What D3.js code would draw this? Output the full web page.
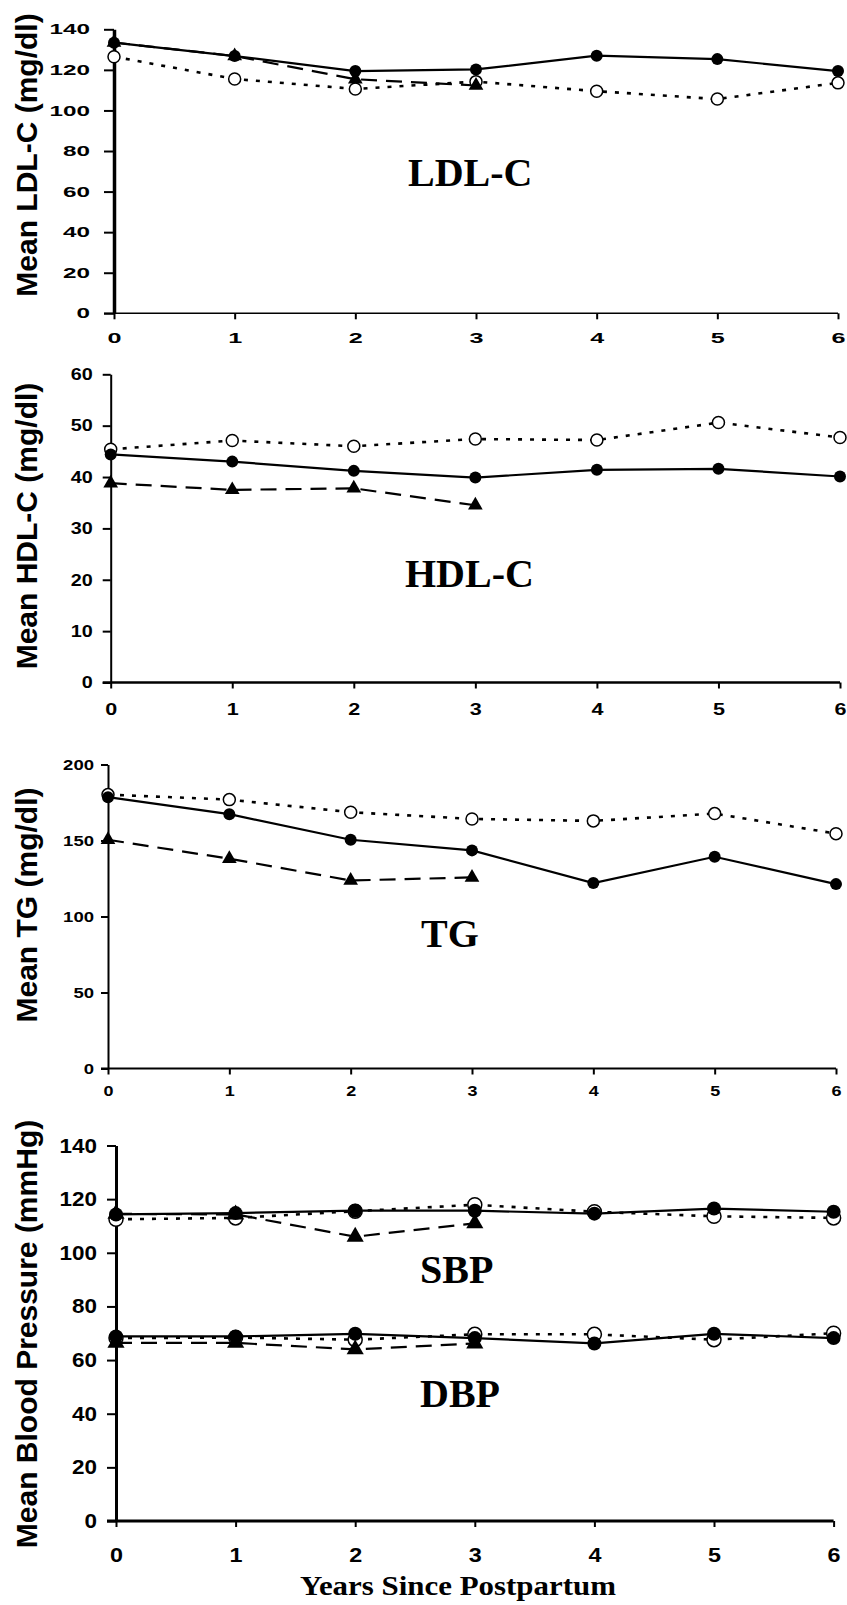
<!DOCTYPE html>
<html>
<head>
<meta charset="utf-8">
<script src="https://cdn.jsdelivr.net/npm/d3@7"></script>
<style>
  body { margin: 0; background: #fff; }
  svg { display: block; }
</style>
</head>
<body>
<svg id="chart" width="847" height="1605"></svg>
<script>
// years on the x axis (triangle series stops at year 3)
const years = [0, 1, 2, 3, 4, 5, 6];
const triYears = [0, 1, 2, 3];

// LDL-C (mg/dl)
const ldlTicks = [0, 20, 40, 60, 80, 100, 120, 140];
const ldlFilled = [133.4, 126.8, 119.4, 120.2, 127, 125.3, 119.4];
const ldlOpen = [126.5, 115.5, 110.6, 114.2, 109.5, 105.6, 113.6];
const ldlTri = [133.5, 126.8, 115.4, 112.3];

// HDL-C (mg/dl)
const hdlTicks = [0, 10, 20, 30, 40, 50, 60];
const hdlFilled = [44.4, 43.0, 41.2, 39.9, 41.4, 41.6, 40.1];
const hdlOpen = [45.4, 47.1, 46.0, 47.4, 47.2, 50.6, 47.7];
const hdlTri = [38.8, 37.5, 37.8, 34.5];

// TG (mg/dl)
const tgTicks = [0, 50, 100, 150, 200];
const tgFilled = [178.5, 167.3, 150.5, 143.5, 122, 139.3, 121.3];
const tgOpen = [180.2, 176.9, 168.6, 164.2, 162.9, 167.7, 154.5];
const tgTri = [150.5, 138, 123.7, 125.7];

// blood pressure (mmHg)
const bpTicks = [0, 20, 40, 60, 80, 100, 120, 140];
const sbpFilled = [114.3, 114.8, 115.7, 115.7, 114.6, 116.5, 115.3];
const sbpOpen = [112.5, 113, 115.5, 117.9, 115.3, 113.6, 113];
const sbpTri = [114.5, 114.3, 106, 111];
const dbpFilled = [68.8, 68.8, 69.8, 68.2, 66.2, 69.8, 68.2];
const dbpOpen = [68.2, 68.4, 67.6, 69.6, 69.6, 67.6, 70];
const dbpTri = [66.4, 66.4, 64, 66.2];

const svg = d3.select("#chart");
svg.append("rect").attr("width", 847).attr("height", 1605).attr("fill", "#fff");

const sans = "'Liberation Sans', Arial, sans-serif";
const serif = "'Liberation Serif', 'Times New Roman', serif";

const panels = [
  {
    title: "Mean LDL-C (mg/dl)", titleY: 155,
    x0: 114, x1: 838, top: 29.3, bottom: 313.3, max: 140, ticks: ldlTicks,
    yw: 3.5, xw: 1.5, tick: 10, yPad: 14, xLab: 30,
    font: 14.5, digit: 13.5, xDigit: 14,
    groups: [{ filled: ldlFilled, open: ldlOpen, tri: ldlTri }],
    labels: [{ text: "LDL-C", x: 408, y: 186 }],
    r: 6
  },
  {
    title: "Mean HDL-C (mg/dl)", titleY: 526,
    x0: 110.7, x1: 840, top: 374.3, bottom: 682.5, max: 60, ticks: hdlTicks,
    yw: 2, xw: 2.5, tick: 8, yPad: 10, xLab: 32,
    font: 16.5, digit: 11, xDigit: 12,
    groups: [{ filled: hdlFilled, open: hdlOpen, tri: hdlTri }],
    labels: [{ text: "HDL-C", x: 405, y: 587 }],
    r: 6
  },
  {
    title: "Mean TG (mg/dl)", titleY: 905,
    x0: 108, x1: 836, top: 764.5, bottom: 1068.5, max: 200, ticks: tgTicks,
    yw: 2, xw: 2, tick: 7, yPad: 7, xLab: 27.5,
    font: 15.5, digit: 10.3, xDigit: 10,
    groups: [{ filled: tgFilled, open: tgOpen, tri: tgTri }],
    labels: [{ text: "TG", x: 421, y: 947 }],
    r: 6
  },
  {
    title: "Mean Blood Pressure (mmHg)", titleY: 1334,
    x0: 116, x1: 833.6, top: 1145.5, bottom: 1521, max: 140, ticks: bpTicks,
    yw: 3, xw: 3, tick: 9, yPad: 10, xLab: 41,
    font: 20.5, digit: 12.5, xDigit: 13,
    groups: [
      { filled: sbpFilled, open: sbpOpen, tri: sbpTri },
      { filled: dbpFilled, open: dbpOpen, tri: dbpTri }
    ],
    labels: [{ text: "SBP", x: 420, y: 1283 }, { text: "DBP", x: 420, y: 1407 }],
    r: 7
  }
];

panels.forEach(p => {
  const x = d3.scaleLinear().domain([0, 6]).range([p.x0, p.x1]);
  const y = d3.scaleLinear().domain([0, p.max]).range([p.bottom, p.top]);

  // y axis
  const yAxis = svg.append("g")
    .attr("transform", `translate(${p.x0},0)`)
    .call(d3.axisLeft(y).tickValues(p.ticks).tickFormat(d3.format("d"))
      .tickSize(p.tick).tickSizeOuter(0).tickPadding(p.yPad));
  yAxis.select(".domain").attr("stroke-width", p.yw);
  yAxis.selectAll(".tick line").attr("stroke-width", 2);
  yAxis.selectAll(".tick text")
    .attr("font-family", sans).attr("font-weight", "bold").attr("font-size", p.font)
    .attr("fill", "#000")
    .attr("textLength", function() { return this.textContent.length * p.digit; })
    .attr("lengthAdjust", "spacingAndGlyphs");

  // x axis
  const xAxis = svg.append("g")
    .attr("transform", `translate(0,${p.bottom})`)
    .call(d3.axisBottom(x).tickValues(years).tickFormat(d3.format("d"))
      .tickSize(6).tickSizeOuter(0));
  xAxis.select(".domain").attr("stroke-width", p.xw)
    .attr("d", `M${p.x0 - p.tick},0H${p.x1}`);
  xAxis.selectAll(".tick line").attr("stroke-width", 2);
  xAxis.selectAll(".tick text")
    .attr("dy", null).attr("y", p.xLab)
    .attr("font-family", sans).attr("font-weight", "bold").attr("font-size", p.font)
    .attr("fill", "#000")
    .attr("textLength", p.xDigit)
    .attr("lengthAdjust", "spacingAndGlyphs");

  // y axis title
  svg.append("text")
    .attr("transform", `translate(37,${p.titleY}) rotate(-90)`)
    .attr("text-anchor", "middle")
    .attr("font-family", sans).attr("font-weight", "bold").attr("font-size", 30)
    .text(p.title);

  // panel labels
  p.labels.forEach(l => {
    svg.append("text")
      .attr("x", l.x).attr("y", l.y)
      .attr("font-family", serif).attr("font-weight", "bold").attr("font-size", 40)
      .text(l.text);
  });

  const line = d3.line().x((d, i) => x(years[i])).y(d => y(d));
  const g = svg.append("g");

  p.groups.forEach(s => {
    g.append("path").datum(s.open).attr("d", line)
      .attr("fill", "none").attr("stroke", "#000").attr("stroke-width", 2.6)
      .attr("stroke-dasharray", "4,8");
    g.append("path").datum(s.tri).attr("d", line)
      .attr("fill", "none").attr("stroke", "#000").attr("stroke-width", 2.2)
      .attr("stroke-dasharray", "16,9");
    g.append("path").datum(s.filled).attr("d", line)
      .attr("fill", "none").attr("stroke", "#000").attr("stroke-width", 2.2);
  });

  p.groups.forEach(s => {
    g.selectAll(null).data(s.open).join("circle")
      .attr("cx", (d, i) => x(years[i])).attr("cy", d => y(d)).attr("r", p.r)
      .attr("fill", "#fff").attr("stroke", "#000").attr("stroke-width", 1.5);
    g.selectAll(null).data(s.filled).join("circle")
      .attr("cx", (d, i) => x(years[i])).attr("cy", d => y(d)).attr("r", p.r)
      .attr("fill", "#000");
    g.selectAll(null).data(s.tri).join("path")
      .attr("transform", (d, i) => `translate(${x(triYears[i])},${y(d)})`)
      .attr("d", d3.symbol(d3.symbolTriangle, p.r * p.r * 2.6))
      .attr("fill", "#000");
  });
});

// x axis title
svg.append("text")
  .attr("x", 458).attr("y", 1595)
  .attr("text-anchor", "middle")
  .attr("font-family", serif).attr("font-weight", "bold").attr("font-size", 27)
  .attr("textLength", 316).attr("lengthAdjust", "spacingAndGlyphs")
  .text("Years Since Postpartum");
</script>
</body>
</html>
